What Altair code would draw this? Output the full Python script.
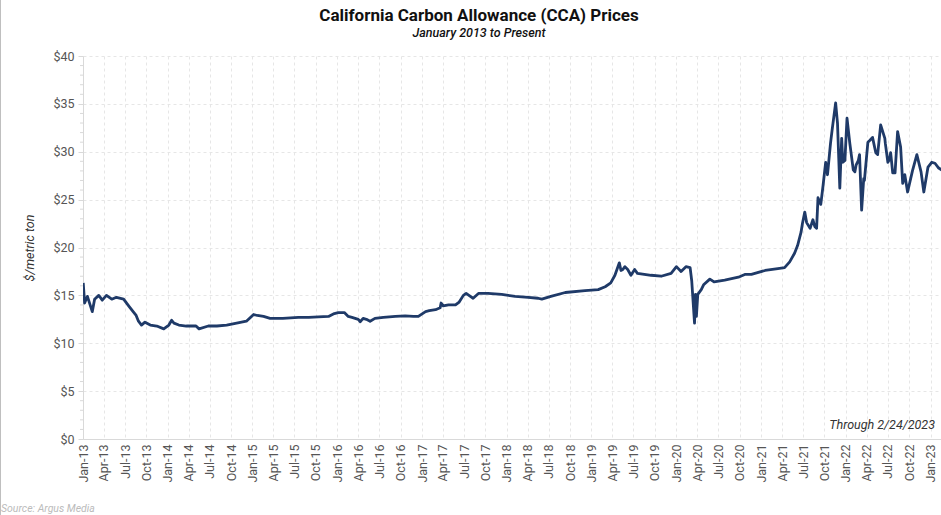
import altair as alt
import pandas as pd

# California Carbon Allowance settlement prices ($/metric ton)
dates = [
    "2013-01-02", "2013-01-08", "2013-01-20", "2013-02-10", "2013-02-20", "2013-03-10",
    "2013-03-25", "2013-04-12", "2013-05-05", "2013-05-25", "2013-06-25", "2013-07-20",
    "2013-08-05", "2013-08-18", "2013-08-28", "2013-09-10", "2013-09-25", "2013-10-18",
    "2013-11-15", "2013-12-15", "2014-01-06", "2014-01-18", "2014-01-28", "2014-02-18",
    "2014-03-22", "2014-05-03", "2014-05-16", "2014-06-25", "2014-08-01", "2014-09-12",
    "2014-10-25", "2014-12-06", "2014-12-28", "2015-01-06", "2015-01-22", "2015-02-18",
    "2015-03-18", "2015-05-12", "2015-07-18", "2015-09-01", "2015-10-12", "2015-11-25",
    "2015-12-20", "2016-01-06", "2016-02-01", "2016-02-18", "2016-03-05", "2016-04-01",
    "2016-04-10", "2016-04-22", "2016-05-06", "2016-05-22", "2016-06-12", "2016-07-18",
    "2016-09-08", "2016-10-20", "2016-11-25", "2016-12-16", "2017-01-16", "2017-02-01",
    "2017-02-28", "2017-03-20", "2017-03-24", "2017-04-02", "2017-04-25", "2017-05-25",
    "2017-06-10", "2017-06-28", "2017-07-10", "2017-07-22", "2017-08-09", "2017-09-01",
    "2017-10-12", "2017-12-10", "2018-02-06", "2018-04-03", "2018-05-16", "2018-06-01",
    "2018-07-10", "2018-09-10", "2018-12-04", "2019-01-30", "2019-03-01", "2019-03-25",
    "2019-04-12", "2019-05-01", "2019-05-08", "2019-05-16", "2019-05-25", "2019-06-06",
    "2019-06-20", "2019-07-06", "2019-07-18", "2019-09-15", "2019-10-28", "2019-12-10",
    "2020-01-02", "2020-01-22", "2020-02-12", "2020-03-01", "2020-03-08", "2020-03-20",
    "2020-03-24", "2020-03-28", "2020-04-03", "2020-04-18", "2020-04-28", "2020-05-25",
    "2020-06-12", "2020-07-28", "2020-09-25", "2020-10-25", "2020-11-20", "2021-01-18",
    "2021-03-14", "2021-04-12", "2021-05-04", "2021-05-25", "2021-06-07", "2021-06-22",
    "2021-06-28", "2021-07-08", "2021-07-16", "2021-07-31", "2021-08-12", "2021-08-20",
    "2021-08-28", "2021-09-03", "2021-09-15", "2021-09-25", "2021-10-06", "2021-10-14",
    "2021-10-27", "2021-11-04", "2021-11-18", "2021-11-26", "2021-12-06", "2021-12-14",
    "2021-12-19", "2021-12-28", "2022-01-06", "2022-01-18", "2022-02-02", "2022-02-09",
    "2022-02-14", "2022-02-24", "2022-03-01", "2022-03-10", "2022-03-19", "2022-03-22",
    "2022-04-06", "2022-04-15", "2022-04-26", "2022-05-10", "2022-05-18", "2022-05-31",
    "2022-06-18", "2022-06-20", "2022-07-01", "2022-07-08", "2022-07-13", "2022-07-22",
    "2022-08-01", "2022-08-12", "2022-08-25", "2022-09-03", "2022-09-12", "2022-09-24",
    "2022-10-15", "2022-11-03", "2022-11-21", "2022-12-03", "2022-12-21", "2023-01-06",
    "2023-01-20", "2023-02-05", "2023-02-24",
]
prices = [
    16.3, 14.2, 14.9, 13.3, 14.6, 15.0,
    14.5, 15.0, 14.6, 14.8, 14.6, 13.8,
    13.3, 12.9, 12.3, 11.9, 12.2, 11.9,
    11.8, 11.5, 11.9, 12.4, 12.1, 11.9,
    11.8, 11.8, 11.5, 11.8, 11.8, 11.9,
    12.1, 12.3, 12.8, 13.0, 12.9, 12.8,
    12.6, 12.6, 12.7, 12.7, 12.75, 12.8,
    13.1, 13.2, 13.2, 12.8, 12.7, 12.5,
    12.25, 12.6, 12.5, 12.3, 12.6, 12.7,
    12.8, 12.85, 12.8, 12.8, 13.3, 13.4,
    13.5, 13.7, 14.2, 13.9, 14.0, 14.0,
    14.3, 15.0, 15.2, 15.0, 14.7, 15.2,
    15.2, 15.1, 14.9, 14.8, 14.7, 14.6,
    14.9, 15.3, 15.5, 15.6, 15.9, 16.3,
    17.1, 18.4, 17.6, 17.7, 18.0, 17.7,
    17.1, 17.7, 17.3, 17.1, 17.0, 17.3,
    18.0, 17.5, 18.0, 17.9, 16.5, 12.1,
    15.1, 12.8, 15.1, 15.6, 16.1, 16.7,
    16.4, 16.6, 16.9, 17.2, 17.2, 17.6,
    17.8, 17.9, 18.5, 19.4, 20.2, 21.6,
    22.5, 23.7, 22.6, 22.0, 22.9, 22.2,
    22.0, 25.2, 24.5, 26.5, 28.9, 27.6,
    30.9, 32.5, 35.1, 33.0, 26.2, 31.4,
    28.9, 29.1, 33.5, 30.9, 28.1, 27.9,
    28.6, 29.1, 29.7, 23.9, 27.2, 27.0,
    31.0, 31.2, 31.5, 29.9, 29.7, 32.8,
    31.4, 30.9, 28.9, 29.2, 29.9, 27.8,
    27.8, 32.1, 30.5, 26.7, 27.6, 25.8,
    28.0, 29.7, 27.9, 25.8, 28.4, 28.9,
    28.8, 28.3, 28.0,
]

# Quarterly tick dates for the x axis, major and minor price ticks for the y axis
tick_dates = pd.date_range("2013-01-01", "2023-01-01", freq="QS")
y_ticks = [0, 5, 10, 15, 20, 25, 30, 35, 40]
y_minor = [v for v in range(0, 41) if v % 5 != 0]

title_text = "California Carbon Allowance (CCA) Prices"
subtitle_text = "January 2013 to Present"
y_title = "$/metric ton"
note_text = "Through 2/24/2023"
source_text = "Source: Argus Media"

df = pd.DataFrame({"date": dates, "price": prices})

FONT = "Roboto"
LINE_COLOR = "#1f3a68"
GRID_COLOR = "#e6e6e6"
AXIS_COLOR = "#d9d9d9"

x_values = [alt.DateTime(year=d.year, month=d.month, date=1, utc=True) for d in tick_dates]
x_domain = [
    alt.DateTime(year=2013, month=1, date=1, utc=True),
    alt.DateTime(year=2023, month=2, date=15, utc=True),
]
y_scale = alt.Scale(domain=[0, 40], nice=False)

line = alt.Chart(df).mark_line(
    color=LINE_COLOR, strokeWidth=2.8, clip=True, strokeJoin="round"
).encode(
    x=alt.X(
        "date:T",
        scale=alt.Scale(type="utc", domain=x_domain),
        axis=alt.Axis(
            values=x_values,
            format="%b-%y",
            labelAngle=-90,
            labelFontSize=12.5,
            labelColor="#555555",
            labelPadding=5,
            ticks=False,
            grid=True,
            gridDash=[3, 3],
            gridColor=GRID_COLOR,
            domainColor=AXIS_COLOR,
            labelOverlap=False,
        ),
        title=None,
    ),
    y=alt.Y(
        "price:Q",
        scale=y_scale,
        axis=alt.Axis(
            values=y_ticks,
            format="$.0f",
            labelFontSize=12.5,
            labelColor="#555555",
            labelPadding=4,
            tickSize=5,
            tickColor=AXIS_COLOR,
            grid=True,
            gridDash=[3, 3],
            gridColor=GRID_COLOR,
            domainColor=AXIS_COLOR,
            titleFontStyle="italic",
            titleFontWeight="normal",
            titleFontSize=12.5,
            titleColor="#333333",
            titlePadding=16,
        ),
        title=y_title,
    ),
)

# Minor ticks on the price axis, every $1
minor = alt.Chart(pd.DataFrame({"v": y_minor})).mark_rule(
    color=AXIS_COLOR, strokeWidth=1
).encode(
    y=alt.Y("v:Q", scale=y_scale),
    x=alt.value(-3),
    x2=alt.value(0),
)

# Thin frame line along the left edge of the figure
frame = alt.Chart(pd.DataFrame({"k": [0]})).mark_rule(
    color="#bfbfbf", strokeWidth=1
).encode(x=alt.value(-82.5), y=alt.value(-56), y2=alt.value(459))

# Heading: title and subtitle centred over the figure
heading = alt.Chart(pd.DataFrame({"t": [title_text]})).mark_text(
    align="center", baseline="middle", font=FONT, fontSize=17,
    fontWeight="bold", color="#111111",
).encode(x=alt.value(396), y=alt.value(-40), text="t:N")

subheading = alt.Chart(pd.DataFrame({"t": [subtitle_text]})).mark_text(
    align="center", baseline="middle", font=FONT, fontSize=12.5,
    fontStyle="italic", fontWeight=500, color="#111111",
).encode(x=alt.value(396), y=alt.value(-23), text="t:N")

note = alt.Chart(pd.DataFrame({"t": [note_text]})).mark_text(
    align="right", baseline="middle", font=FONT, fontSize=12.5,
    fontStyle="italic", color="#333333",
).encode(x=alt.value(852), y=alt.value(369), text="t:N")

source = alt.Chart(pd.DataFrame({"t": [source_text]})).mark_text(
    align="left", baseline="middle", font=FONT, fontSize=10.5,
    fontStyle="italic", color="#bbbbbb",
).encode(x=alt.value(-82), y=alt.value(453), text="t:N")

chart = alt.layer(minor, frame, line, heading, subheading, note, source).properties(
    width=858,
    height=383,
    padding={"left": 83, "top": 56, "right": 0, "bottom": 76},
    autosize=alt.AutoSizeParams(type="none"),
).configure_view(stroke=None).configure_axis(labelFont=FONT, titleFont=FONT)

chart.save("out.html", embed_options={"renderer": "svg", "actions": False})
